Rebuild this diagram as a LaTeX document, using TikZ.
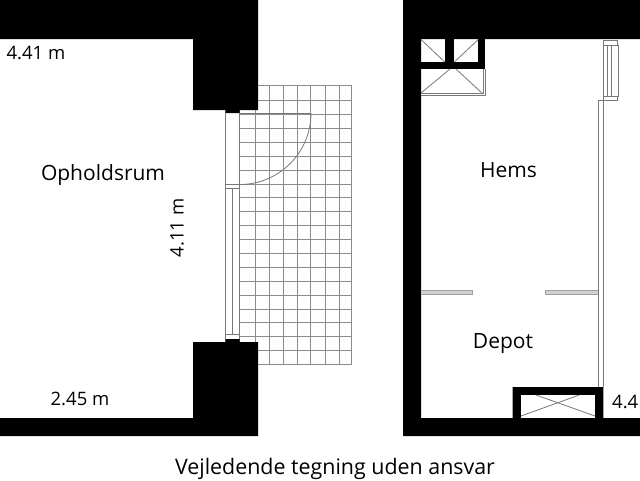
\documentclass[tikz,border=0pt]{standalone}
\usepackage{fontspec}
\setmainfont{Open Sans}
\definecolor{linecol}{RGB}{120,120,120}
\definecolor{tilecol}{RGB}{140,140,140}
\tikzset{wall/.style={fill=black,draw=none}}
\tikzset{thin line/.style={draw=linecol,line width=0.8pt}}
\tikzset{soft line/.style={draw=linecol!70,fill=linecol!35,line width=0.8pt}}
\tikzset{tile/.style={draw=tilecol,line width=0.9pt}}
\tikzset{label/.style={font=\fontsize{18.5}{22}\selectfont,text=black,inner sep=0pt}}
\tikzset{big label/.style={label,font=\fontsize{21}{25}\selectfont}}
\tikzset{note label/.style={label,font=\fontsize{21.4}{25}\selectfont}}

\begin{document}
\begin{tikzpicture}[x=1pt,y=-1pt]
\useasboundingbox (0,0) rectangle (640,480);
% tiles
\foreach \x in {239.7,255.7,269.3,283.3,297,310.7,325.7,339.7,351.7}
  \draw [tile] (\x,85) -- (\x,365);
\foreach \k in {0,...,19}
  \draw [tile] (239.7,100.7+13.89*\k) -- (351.7,100.7+13.89*\k);
\draw [tile] (239.7,85) -- (351.7,85);
% window and door
\draw [thin line] (225.7,110) -- (225.7,342);
\draw [thin line] (239.7,110) -- (239.7,342);
\draw [thin line] (232.7,188) -- (232.7,334);
\draw [thin line] (225.7,184.5) -- (239.7,184.5);
\draw [thin line] (225.7,188) -- (239.7,188);
\draw [thin line] (225.7,334) -- (239.7,334);
\draw [thin line] (239.7,113) -- (311,113);
\draw [thin line] (239.7,184.5) arc (90:0:71.3);
% left walls
\fill [wall] (0,0) -- (258,0) -- (258,110) -- (239.7,110) -- (239.7,113) -- (225.7,113) -- (225.7,110) -- (193,110) -- (193,39) -- (0,39) -- cycle;
\fill [wall] (0,436) -- (258,436) -- (258,342) -- (239.7,342) -- (239.7,339) -- (225.7,339) -- (225.7,342) -- (193,342) -- (193,418) -- (0,418) -- cycle;
% right walls
\fill [wall] (640,0) -- (403,0) -- (403,436) -- (640,436) -- (640,418) -- (603.3,418) -- (603.3,387) -- (512.7,387) -- (512.7,418) -- (421,418) -- (421,39) -- (640,39) -- cycle;
\fill [wall] (444.7,39) rectangle (454.3,69);
\fill [wall] (421,62) rectangle (484.7,69);
\fill [wall] (478.3,39) rectangle (484.7,69);
\fill [white] (520.7,395) rectangle (595,418);
% shafts
\draw [thin line] (421,39.5) -- (444.7,62);
\draw [thin line] (478.3,39.5) -- (454.3,62);
\draw [thin line] (450,69) -- (421,93);
\draw [thin line] (456,69) -- (483,94);
\draw [thin line] (421,93) -- (483,93) -- (483,69);
\draw [thin line] (421,95) -- (485,95) -- (485,69);
\draw [thin line] (536,395) -- (595,416);
\draw [thin line] (579.3,395) -- (521,416);
% right window and partition
\draw [thin line] (603,45) -- (603,40) -- (617,40) -- (617,45);
\draw [thin line] (603,45) -- (618,45) -- (618,96) -- (603,96);
\draw [thin line] (607,45) -- (607,96);
\draw [thin line] (611.7,45) -- (611.7,96);
\draw [thin line] (603,45) -- (603,100);
\draw [thin line] (617,96) -- (617,100) -- (598,100) -- (598,387);
\draw [thin line] (603,100) -- (603,387);
\draw [soft line] (421,290.7) -- (472,290.7) -- (472,294) -- (421,294);
\draw [soft line] (597.7,290.7) -- (545.7,290.7) -- (545.7,294) -- (597.7,294);
% texts
\node [label] (areatop) at (36,52.5) {4.41 m};
\node [big label] (living) at (103,175) {Opholdsrum};
\node [label,rotate=90] (height) at (177,228) {4.11 m};
\node [label] (areabottom) at (80,398.5) {2.45 m};
\node [big label] (loft) at (508.5,170) {Hems};
\node [big label] (store) at (503,343.5) {Depot};
\node [label,anchor=west] (arearight) at (612,401.5) {4.41 m};
\node [note label] (note) at (335,468.5) {Vejledende tegning uden ansvar};
\end{tikzpicture}
\end{document}
